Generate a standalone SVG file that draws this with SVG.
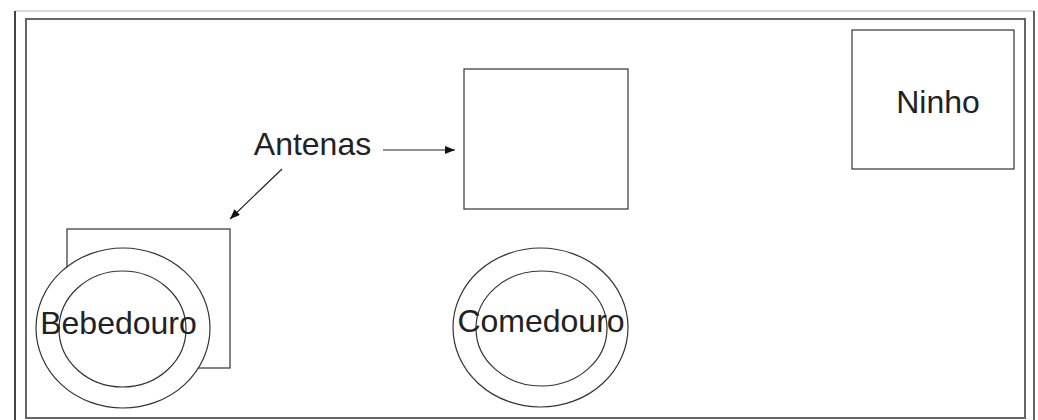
<svg xmlns="http://www.w3.org/2000/svg" width="1038" height="420" viewBox="0 0 1038 420">
<style>
.shape{fill:#fff;stroke:#333;stroke-width:1.2}
.lbl{font-family:"Liberation Sans",Arial,sans-serif;font-size:32px;fill:#222}
.conn{stroke:#222;stroke-width:1.2;fill:none}
</style>
<defs>
<marker id="ah" viewBox="0 0 10 8" refX="10" refY="4" markerWidth="10" markerHeight="8" markerUnits="userSpaceOnUse" orient="auto">
<path d="M0,0 L10,4 L0,8 Z" fill="#111"/>
</marker>
</defs>
<rect width="1038" height="420" fill="#fff"/>
<g id="frame">
<line x1="15" y1="11" x2="1035" y2="11" stroke="#ccc" stroke-width="1.5"/>
<line x1="15" y1="11" x2="15" y2="420" stroke="#444" stroke-width="2"/>
<line x1="1034" y1="11" x2="1034" y2="420" stroke="#666" stroke-width="2"/>
<rect x="26" y="19" width="999" height="399" fill="none" stroke="#666" stroke-width="2"/>
</g>
<g id="ninho">
<rect class="shape" x="852" y="30" width="162" height="139"/>
<text class="lbl" x="938" y="113" text-anchor="middle">Ninho</text>
</g>
<g id="antena-centro">
<rect class="shape" x="464" y="69" width="164" height="140"/>
</g>
<g id="bebedouro">
<rect class="shape" x="67" y="229" width="163" height="139"/>
<ellipse class="shape" cx="123" cy="328" rx="87" ry="80"/>
<ellipse class="shape" cx="122.5" cy="329" rx="63.5" ry="58"/>
<text class="lbl" x="118.5" y="334" text-anchor="middle">Bebedouro</text>
</g>
<g id="comedouro">
<ellipse class="shape" cx="540.5" cy="327.5" rx="87.5" ry="79.5"/>
<ellipse class="shape" cx="541.5" cy="328.5" rx="65.5" ry="57.5"/>
<text class="lbl" x="541" y="332" text-anchor="middle">Comedouro</text>
</g>
<g id="antenas">
<text class="lbl" x="312.5" y="155" text-anchor="middle">Antenas</text>
</g>
<g id="connectors">
<line class="conn" x1="383" y1="150" x2="455" y2="150" marker-end="url(#ah)"/>
<line class="conn" x1="282" y1="169" x2="230" y2="219" marker-end="url(#ah)"/>
</g>
</svg>
